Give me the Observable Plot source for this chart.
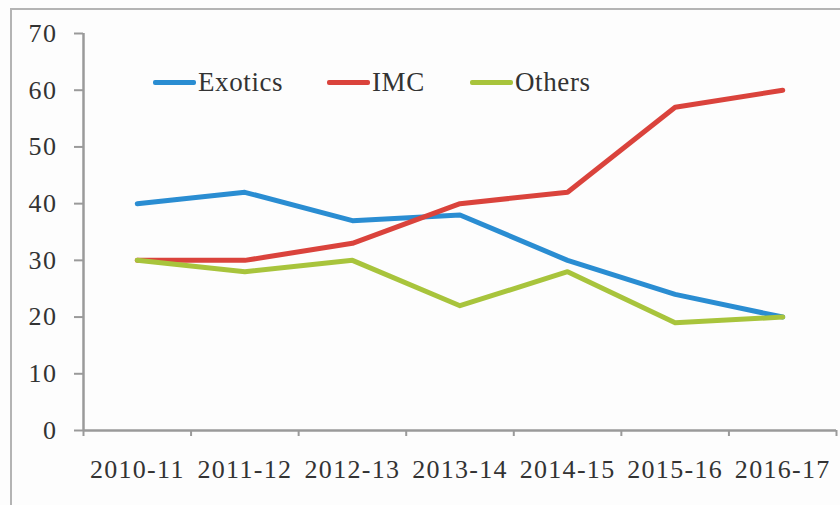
<!DOCTYPE html>
<html>
<head>
<meta charset="utf-8">
<script src="https://cdn.jsdelivr.net/npm/d3@7"></script>
<script src="https://cdn.jsdelivr.net/npm/@observablehq/plot@0.6"></script>
<style>
  body { margin: 0; background: #fff; }
  #wrap { position: relative; width: 840px; height: 505px; overflow: hidden; background: #fdfdfd; }
  #frame { position: absolute; left: 10px; top: 8px; width: 840px; height: 520px; border: 2px solid #b4b4b4; box-sizing: border-box; }
  #chart { position: absolute; left: 0; top: 0; }
  #legend { position: absolute; left: 0; top: 0; font-family: "Liberation Serif", "Times New Roman", serif; font-size: 27px; letter-spacing: 0.6px; color: #333; }
  .item { position: absolute; top: 67px; display: flex; align-items: center; white-space: nowrap; }
  .sw { display: inline-block; height: 5px; width: 43px; border-radius: 2px; margin-right: 2px; }
  .xlab text { letter-spacing: 1.3px; }
  .ylab text { letter-spacing: 1.5px; }
</style>
</head>
<body>
<div id="wrap">
  <div id="frame"></div>
  <div id="chart"></div>
  <div id="legend"></div>
</div>
<script>
const categories = ["2010-11", "2011-12", "2012-13", "2013-14", "2014-15", "2015-16", "2016-17"];
const seriesNames = ["Exotics", "IMC", "Others"];
const exotics = [40, 42, 37, 38, 30, 24, 20];
const imc = [30, 30, 33, 40, 42, 57, 60];
const others = [30, 28, 30, 22, 28, 19, 20];
const yTicks = [0, 10, 20, 30, 40, 50, 60, 70];
const colors = ["#2a8dd2", "#da433c", "#a8c43c"];

const values = [exotics, imc, others];
const data = [];
seriesNames.forEach((s, si) => values[si].forEach((v, i) => data.push({series: s, i, value: v})));

const boundaries = d3.range(categories.length + 1).map(k => k - 0.5);
const axisColor = "#9a9a9a";
const font = "'Liberation Serif', 'Times New Roman', serif";

const chart = Plot.plot({
  width: 840,
  height: 505,
  marginLeft: 83,
  marginRight: 4,
  marginTop: 33,
  marginBottom: 75,
  style: {background: "transparent", fontFamily: font, fontSize: "25px", color: "#333"},
  x: {type: "linear", domain: [-0.5, categories.length - 0.5], label: null},
  y: {type: "linear", domain: [0, 70], label: null},
  color: {domain: seriesNames, range: colors},
  marks: [
    Plot.ruleX([-0.5], {stroke: axisColor, strokeWidth: 2.5}),
    Plot.ruleY([0], {stroke: axisColor, strokeWidth: 2.5}),
    Plot.axisY({ticks: yTicks, tickSize: 9, tickPadding: 17, stroke: axisColor, strokeWidth: 2, fill: "#333", fontSize: 26, tickFormat: d => d, label: null, className: "ylab"}),
    Plot.axisX({ticks: boundaries, tickSize: 6, tickFormat: () => "", stroke: axisColor, strokeWidth: 2, label: null}),
    Plot.axisX({ticks: d3.range(categories.length), tickSize: 0, tickPadding: 29, tickFormat: i => categories[i], fill: "#333", fontSize: 26, label: null, className: "xlab"}),
    Plot.line(data, {x: "i", y: "value", z: "series", stroke: "series", strokeWidth: 5, strokeLinecap: "round", strokeLinejoin: "round"})
  ]
});
document.getElementById("chart").appendChild(chart);

const legendX = [153, 327, 470];
const legend = document.getElementById("legend");
seriesNames.forEach((s, k) => {
  const item = document.createElement("div");
  item.className = "item";
  item.style.left = legendX[k] + "px";
  const sw = document.createElement("span");
  sw.className = "sw";
  sw.style.background = colors[k];
  item.appendChild(sw);
  const t = document.createElement("span");
  t.textContent = s;
  item.appendChild(t);
  legend.appendChild(item);
});
</script>
</body>
</html>
